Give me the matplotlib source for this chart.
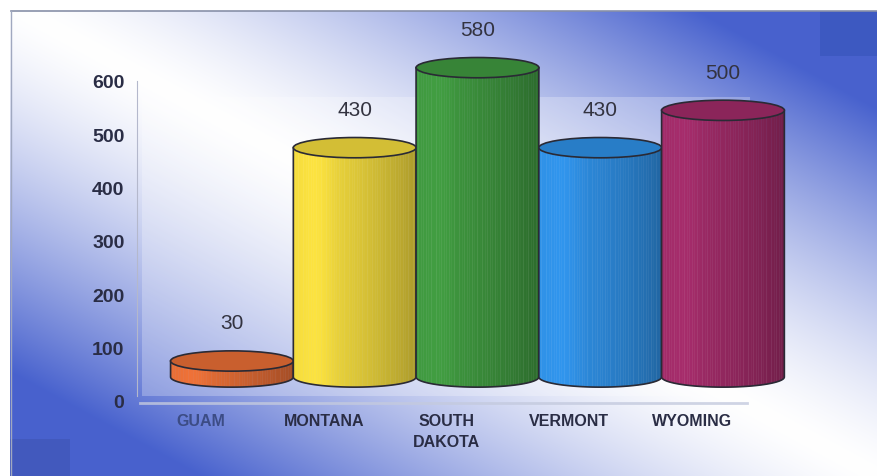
import numpy as np
import matplotlib.pyplot as plt
import matplotlib.colors as mcolors
import matplotlib.transforms as mtransforms
from matplotlib.patches import Polygon, Ellipse, Rectangle

plt.rcParams['font.family'] = ['Liberation Sans', 'DejaVu Sans']

# data
states = ['GUAM', 'MONTANA', 'SOUTH\nDAKOTA', 'VERMONT', 'WYOMING']
values = [30, 430, 580, 430, 500]
colors = ['#e46c34', '#f0d83c', '#3e963e', '#2e8ee2', '#9e2a66']
yticks = [0, 100, 200, 300, 400, 500, 600]

W, H = 878, 477
fig = plt.figure(figsize=(W / 100, H / 100), dpi=100)

# gradient background
bg = fig.add_axes([0, 0, 1, 1])
bg.axis('off')
yy, xx = np.mgrid[0:H, 0:W]
d = np.abs(xx / W - yy / H)
a = np.clip(1.3 * d, 0, 1) ** 1.4 * 0.92
blue = np.array([0.22, 0.33, 0.79])
img = 1 - a[..., None] * (1 - blue)
img[:12, :] = 1
img[:, :10] = 1
img[12:57, 820:] = [0.24, 0.35, 0.76]
img[440:, 10:70] = img[440:, 10:70] * 0.92
bg.imshow(img, extent=[0, W, H, 0], aspect='auto')
bg.plot([11, W], [12, 12], color='#8890a8', lw=1.2)
bg.plot([11, 11], [12, H], color='#a0a8c0', lw=1.0)
bg.set_xlim(0, W)
bg.set_ylim(H, 0)

# main axes
ax = fig.add_axes([137 / W, 17 / H, (800 - 137) / W, (462 - 17) / H])
ax.patch.set_alpha(0)
ax.set_xlim(-0.521, 4.88)
ax.set_ylim(-108.75, 725.6)
for s in ['top', 'right', 'bottom']:
    ax.spines[s].set_visible(False)
ax.spines['left'].set_color('#b4b8cc')
ax.spines['left'].set_bounds(10, 600)
ax.set_xticks([])
ax.set_yticks(yticks)
ax.tick_params(axis='y', length=0, pad=9, labelsize=14, labelcolor='#2a2d45')
for lbl in ax.get_yticklabels():
    lbl.set_fontweight('bold')

# back wall and floor edge
ax.add_patch(Rectangle((-0.48, 10), 4.95, 560, fc='white', ec='none', alpha=0.25, zorder=0))
ax.plot([-0.5, 4.45], [-3, -3], color='#c4cade', lw=2, alpha=0.8, zorder=1)

# bars sit back in depth
off = ax.transData + mtransforms.ScaledTranslation(31 / 100, 24 / 100, fig.dpi_scale_trans)
rx, ry = 0.5, 19
n = 48

def shade(t):
    return 1.02 - 0.3 * t ** 1.6 + 0.05 * np.exp(-((t - 0.2) / 0.12) ** 2)

for i, (v, c) in enumerate(zip(values, colors)):
    base = np.array(mcolors.to_rgb(c))
    edges = np.linspace(-rx, rx, n + 1)
    for k in range(n):
        x0, x1 = edges[k], edges[k + 1]
        col = np.clip(base * shade((k + 0.5) / n), 0, 1)
        xs = np.linspace(x0, x1, 3)
        yb = -ry * np.sqrt(np.clip(1 - (xs / rx) ** 2, 0, 1))
        poly = list(zip(i + xs, yb)) + [(i + x1, v), (i + x0, v)]
        ax.add_patch(Polygon(poly, closed=True, fc=col, ec=col, lw=0.3,
                             transform=off, zorder=2 + i))
    th = np.linspace(np.pi, 2 * np.pi, 60)
    ox = [i - rx] + list(i + rx * np.cos(th)) + [i + rx]
    oy = [v] + list(ry * np.sin(th)) + [v]
    ax.plot(ox, oy, color='#2a2a35', lw=1.2, transform=off, zorder=2 + i)
    ax.add_patch(Ellipse((i, v), 2 * rx, 2 * ry, fc=np.clip(base * 0.88, 0, 1),
                         ec='#2a2a35', lw=1.2, transform=off, zorder=2 + i))
    ax.annotate(str(v), xy=(i, v), xycoords=off, xytext=(0, 38),
                textcoords='offset pixels', ha='center', va='center',
                fontsize=15, color='#333340', zorder=10)

for i, s in enumerate(states):
    ax.text(i, -22, s, ha='center', va='top', fontsize=11.5, fontweight='bold',
            linespacing=1.5, color='#3c4c85' if i == 0 else '#2a2d45')

fig.savefig('out.png', dpi=100)
